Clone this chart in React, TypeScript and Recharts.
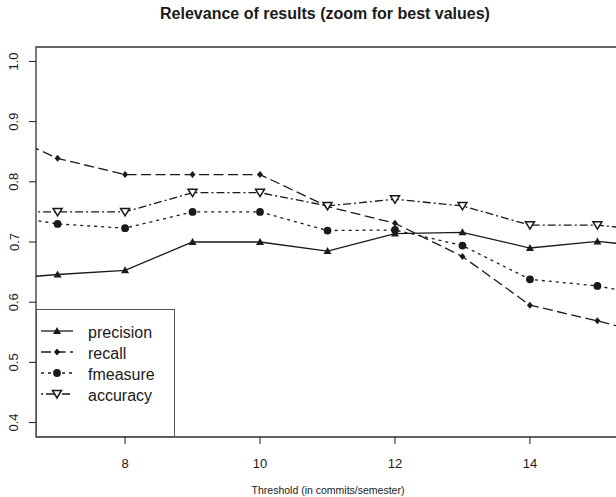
import { LineChart, Line, XAxis, YAxis, ReferenceArea } from 'recharts'

const thresholds = [6, 7, 8, 9, 10, 11, 12, 13, 14, 15, 16]
const precision = [0.637, 0.646, 0.653, 0.7, 0.7, 0.685, 0.714, 0.716, 0.69, 0.701, 0.69]
const recall = [0.89, 0.839, 0.812, 0.812, 0.812, 0.759, 0.731, 0.676, 0.595, 0.569, 0.54]
const fmeasure = [0.748, 0.73, 0.723, 0.75, 0.75, 0.719, 0.72, 0.694, 0.638, 0.627, 0.606]
const accuracy = [0.75, 0.75, 0.75, 0.782, 0.782, 0.76, 0.771, 0.76, 0.728, 0.728, 0.717]

const xTicks = [8, 10, 12, 14]
const yTicks = [0.4, 0.5, 0.6, 0.7, 0.8, 0.9, 1.0]

const xDomain: [number, number] = [6.68, 15.32]
const yDomain: [number, number] = [0.376, 1.024]

const data = thresholds.map((t, i) => ({
  t,
  precision: precision[i],
  recall: recall[i],
  fmeasure: fmeasure[i],
  accuracy: accuracy[i],
}))

const FONT = '"Liberation Sans", Arial, Helvetica, sans-serif'
const INK = '#1a1a1a'

const dash = {
  precision: undefined,
  recall: '10 4.5',
  fmeasure: '3 4',
  accuracy: '2 3 8 3',
}

function marker(kind: string, cx: number, cy: number, key?: any) {
  if (kind === 'precision')
    return <path key={key} d={`M${cx},${cy - 4} L${cx + 4},${cy + 3} L${cx - 4},${cy + 3} Z`} fill={INK} />
  if (kind === 'recall')
    return <path key={key} d={`M${cx},${cy - 3.5} L${cx + 3},${cy} L${cx},${cy + 3.5} L${cx - 3},${cy} Z`} fill={INK} />
  if (kind === 'fmeasure') return <circle key={key} cx={cx} cy={cy} r={3.9} fill={INK} />
  return (
    <path
      key={key}
      d={`M${cx - 4.5},${cy - 3.5} L${cx + 4.5},${cy - 3.5} L${cx},${cy + 4} Z`}
      fill="#fff"
      stroke={INK}
      strokeWidth={1.5}
    />
  )
}

const dotFor = (kind: string) => (p: any) => marker(kind, p.cx, p.cy, `${kind}-${p.index}`)

const XTick = ({ x, payload }: any) => (
  <text x={x} y={468} textAnchor="middle" fontSize={13} fontFamily={FONT} fill={INK}>
    {payload.value}
  </text>
)

const YTick = ({ y, payload }: any) => (
  <text
    x={18.5}
    y={y}
    transform={`rotate(-90, 18.5, ${y})`}
    textAnchor="middle"
    fontSize={13}
    fontFamily={FONT}
    fill={INK}
  >
    {payload.value.toFixed(1)}
  </text>
)

const series = ['precision', 'recall', 'fmeasure', 'accuracy'] as const

function LegendBox() {
  return (
    <svg width={140} height={129} style={{ position: 'absolute', left: 36, top: 309 }}>
      <rect x={0.5} y={0.5} width={138} height={127} fill="#fff" stroke="#555" strokeWidth={1} />
      {series.map((s, i) => {
        const cy = 22 + i * 21
        return (
          <g key={s}>
            <line x1={5} x2={37} y1={cy} y2={cy} stroke={INK} strokeWidth={1.3} strokeDasharray={dash[s]} />
            {marker(s, 21, cy)}
            <text x={52} y={cy + 6.5} fontSize={16} fontFamily={FONT} fill={INK}>
              {s}
            </text>
          </g>
        )
      })}
    </svg>
  )
}

export default function App() {
  return (
    <div
      style={{
        position: 'absolute',
        left: 0,
        top: 0,
        width: 616,
        height: 497,
        overflow: 'hidden',
        background: '#fff',
      }}
    >
      <div
        style={{
          position: 'absolute',
          left: 325,
          top: 5,
          transform: 'translateX(-50%)',
          whiteSpace: 'nowrap',
          fontFamily: FONT,
          fontWeight: 'bold',
          fontSize: 16,
          color: INK,
        }}
      >
        Relevance of results (zoom for best values)
      </div>
      <LineChart width={640} height={497} data={data} margin={{ top: 47, right: 21, bottom: 0, left: 0 }}>
        <XAxis
          dataKey="t"
          type="number"
          domain={xDomain}
          allowDataOverflow
          ticks={xTicks}
          tick={<XTick />}
          tickSize={7}
          axisLine={false}
          tickLine={{ stroke: INK }}
          height={60}
        />
        <YAxis
          type="number"
          domain={yDomain}
          allowDataOverflow
          ticks={yTicks}
          tick={<YTick />}
          tickSize={7}
          axisLine={false}
          tickLine={{ stroke: INK }}
          width={36}
        />
        <ReferenceArea
          x1={xDomain[0]}
          x2={xDomain[1]}
          y1={yDomain[0]}
          y2={yDomain[1]}
          fill="none"
          stroke="#333"
          strokeWidth={1.3}
          fillOpacity={0}
        />
        {series.map((s) => (
          <Line
            key={s}
            dataKey={s}
            type="linear"
            stroke={INK}
            strokeWidth={1.3}
            strokeDasharray={dash[s]}
            dot={dotFor(s)}
            activeDot={false}
            isAnimationActive={false}
          />
        ))}
      </LineChart>
      <LegendBox />
      <div
        style={{
          position: 'absolute',
          left: 328,
          top: 484,
          transform: 'translateX(-50%)',
          whiteSpace: 'nowrap',
          fontFamily: FONT,
          fontSize: 10.5,
          color: INK,
        }}
      >
        Threshold (in commits/semester)
      </div>
    </div>
  )
}
